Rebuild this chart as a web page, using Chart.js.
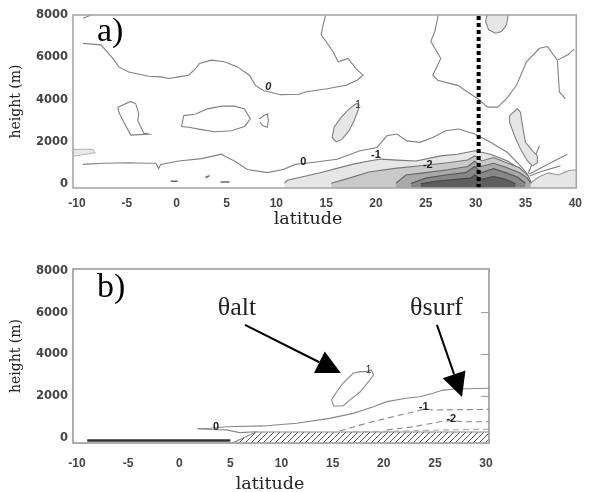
<!DOCTYPE html>
<html>
<head>
<meta charset="utf-8">
<script src="https://cdn.jsdelivr.net/npm/chart.js@4.4.0/dist/chart.umd.min.js"></script>
<style>
  html, body { margin: 0; padding: 0; background: #fff; }
  #wrap { position: relative; width: 590px; height: 492px; }
  #boxA { position: absolute; left: 0; top: 0; width: 590px; height: 232px; }
  #boxB { position: absolute; left: 0; top: 250px; width: 590px; height: 242px; }
</style>
</head>
<body>
<div id="wrap">
  <div id="boxA"><canvas id="chartA"></canvas></div>
  <div id="boxB"><canvas id="chartB"></canvas></div>
</div>
<script>
// axis ticks
const latTicksA = [-10, -5, 0, 5, 10, 15, 20, 25, 30, 35, 40]
const latTicksB = [-10, -5, 0, 5, 10, 15, 20, 25, 30]
const heightTicks = [0, 2000, 4000, 6000, 8000]

// panel a) contours, [latitude, height]
const aZeroUpper = [[-9.4,6660],[-7.6,6590],[-6.4,5950],[-5.8,5550],[-4.8,5310],[-2.8,5110],[-1.6,5080],[-0.8,5000],[0.2,5080],[1.2,5160],[1.9,5470],[2.3,5710],[3.5,5870],[4.8,5790],[6.1,5550],[7.3,5160],[7.9,4680],[8.7,4440],[10.4,4240],[12.3,4260],[13.0,4380],[15.1,4520],[17.0,4680],[18.1,4920],[18.7,5160],[18.0,5470],[17.2,5950],[16.2,5790],[15.7,6270],[15.0,6750],[14.5,7060],[14.7,7540],[15.0,8100]]
const aZeroTopLeft = [[-9.4,7850],[-8.0,8100]]
const aZeroRight = [[26.3,8100],[25.9,7220],[25.5,6750],[26.5,5950],[25.7,5160],[26.2,4920],[28.2,4680],[30.2,4050],[31.2,3650],[32.2,3650],[33.1,4050],[34.1,4680],[35.1,5790],[36.4,6430],[37.2,6510],[38.2,5870],[39.2,6110],[39.9,6400]]
const aZeroRightTail = [[38.2,5870],[38.3,5160],[38.4,4370],[39.0,4050]]
const aLoopLeft = [[-5.9,3650],[-4.6,3920],[-4.1,3810],[-3.8,3330],[-3.9,3010],[-3.3,2430],[-2.8,2380],[-4.6,2330],[-5.3,2940],[-5.8,3410],[-5.9,3650]]
const aLoopMid = [[0.7,3250],[1.9,3330],[3.1,3570],[4.5,3700],[5.8,3700],[6.8,3570],[7.4,3090],[6.8,2740],[5.5,2540],[3.8,2490],[2.5,2590],[1.2,2700],[0.5,2740],[0.7,3250]]
const aHook = [[8.3,3090],[8.7,3250],[9.1,3330],[9.2,3010],[9.1,2700],[8.6,2780],[8.4,2940]]
const aZeroLower = [[-9.4,950],[-7.4,1000],[-4.8,1030],[-2.8,1000],[-2.1,1000],[-1.8,750],[-1.6,950],[0.2,1110],[2.5,1220],[4.5,1430],[4.8,1350],[5.8,1110],[7.1,710],[9.1,560],[10.7,710],[11.9,950],[13.4,1030],[16.1,1190],[18.4,1590],[20.1,1750],[21.1,2300],[22.1,2380],[23.1,2060],[24.4,1990],[25.7,2220],[27.0,2540],[28.3,2620],[29.9,2380],[31.5,1990],[33.2,1510],[34.5,880],[35.2,480]]
const aMinus1 = [[10.8,60],[11.1,200],[14.3,540],[17.6,950],[19.3,1110],[20.5,1200],[22.1,1150],[24.0,1110],[26.5,1350],[28.2,1430],[29.9,1590],[31.5,1430],[33.2,1110],[34.5,710],[35.3,200],[35.5,60]]
const aMinus2 = [[15.5,60],[17.3,300],[19.3,590],[21.9,760],[24.2,870],[27.2,1030],[29.2,1160],[29.9,1350],[30.6,1110],[31.8,1270],[33.1,1030],[34.4,790],[35.3,400],[35.6,60]]
const aMinus3 = [[22.0,60],[23.0,450],[25.0,560],[27.2,700],[29.2,850],[29.9,1100],[30.6,850],[31.8,1000],[33.1,800],[34.4,550],[35.2,300],[35.5,60]]
const aMinus4 = [[23.5,50],[25.0,300],[27.0,450],[29.0,560],[29.9,850],[30.6,560],[31.8,750],[33.0,560],[34.2,350],[35.0,60]]
const aMinus5 = [[24.5,30],[26.0,150],[28.0,250],[29.5,300],[29.9,450],[30.6,250],[31.8,380],[33.0,250],[34.0,40]]
const aRightPatch = [[35.5,60],[36.3,350],[37.3,550],[38.3,450],[39.3,650],[40.1,700]]
const aPlus1 = [[18.3,3810],[18.2,3490],[17.8,3010],[17.3,2540],[16.6,2140],[16.0,2010],[15.6,2220],[15.8,2700],[16.5,3170],[17.3,3570],[18.0,3810],[18.3,3810]]
const aPlus2 = [[31.2,8100],[31.0,7700],[31.3,7300],[32.0,7140],[32.6,7220],[33.1,7540],[33.3,8100]]
const aPlus3 = [[33.4,3250],[34.2,3570],[34.5,3410],[34.7,2780],[35.0,1990],[35.7,1590],[36.2,1350],[36.2,1030],[35.7,880],[35.2,1110],[34.5,1670],[33.9,2300],[33.4,2940],[33.4,3250]]
const aLeftPatch = [[-10.4,1330],[-8.2,1500],[-8.4,1660],[-10.4,1660]]
const aRay1 = [[36.4,1830],[35.6,900],[35.2,450]]
const aRay2 = [[39.2,1430],[37.0,900],[35.4,500]]
const aRay3 = [[38.5,880],[36.5,600],[35.4,400]]
const aDash1 = [[-0.6,150],[0.1,150]]
const aDash2 = [[4.4,120],[5.3,120]]
const aDash3 = [[2.9,330],[3.3,420]]
const aSection = [[30.3,-165],[30.3,8000]]

// panel b) contours
const bZero = [[1.8,460],[3.0,480],[4.6,550],[8.2,590],[11.5,720],[14.7,950],[17.0,1190],[19.0,1510],[20.3,1750],[22.2,1910],[23.5,1980],[24.8,2150],[25.8,2300],[27.1,2350],[30.3,2390]]
const bZeroLower = [[1.8,460],[3.2,420],[4.6,400],[5.9,270],[7.6,310]]
const bMinus1 = [[15.7,350],[18.3,720],[20.9,1030],[23.0,1270],[24.0,1400],[24.8,1350],[30.3,1380]]
const bMinus2 = [[20.3,400],[22.9,550],[25.5,790],[26.5,850],[27.8,790],[30.3,790]]
const bMinus3 = [[17.0,300],[22.0,350],[26.0,400],[30.3,430]]
const bPlus1 = [[18.3,3180],[18.8,3260],[19.0,3020],[18.5,2700],[17.7,2220],[16.7,1830],[16.0,1540],[15.1,1540],[14.9,1830],[15.4,2220],[16.0,2620],[17.0,3100],[17.7,3180],[18.3,3180]]
const bTerrain = [[5.2,-225],[7.5,300],[30.3,300]]
const bOcean = [[-9.0,-110],[5.0,-110]]

const pts = arr => arr.map(p => ({x: p[0], y: p[1]}))

function line(data, extra) {
  return Object.assign({
    data: pts(data), borderColor: '#808080', borderWidth: 1.1, pointRadius: 0,
    fill: false, tension: 0, order: 10
  }, extra)
}

function hatch() {
  const c = document.createElement('canvas')
  c.width = 6; c.height = 6
  const g = c.getContext('2d')
  g.strokeStyle = '#555'; g.lineWidth = 1
  g.beginPath()
  g.moveTo(0, 6); g.lineTo(6, 0)
  g.moveTo(-1, 1); g.lineTo(1, -1)
  g.moveTo(5, 7); g.lineTo(7, 5)
  g.stroke()
  return g.createPattern(c, 'repeat')
}

// box around the plot and a few inner ticks
const frame = {
  id: 'frame',
  afterDatasetsDraw(chart, args, opts) {
    const {ctx, chartArea: a, scales: {y}} = chart
    ctx.save()
    ctx.strokeStyle = opts.color
    ctx.lineWidth = 1.6
    ctx.strokeRect(a.left, a.top, a.right - a.left, a.bottom - a.top)
    if (opts.rightTicks) {
      ctx.lineWidth = 1
      opts.rightTicks.forEach(v => {
        const py = y.getPixelForValue(v)
        ctx.beginPath(); ctx.moveTo(a.right - 8, py); ctx.lineTo(a.right, py); ctx.stroke()
      })
    }
    ctx.restore()
  }
}

// contour labels, arrows, panel letters and the latitude caption
const notes = {
  id: 'notes',
  afterDraw(chart, args, opts) {
    const {ctx, chartArea: a, scales: {x, y}} = chart
    ctx.save()
    ;(opts.labels || []).forEach(t => {
      ctx.font = t.font
      ctx.fillStyle = '#222'
      ctx.textAlign = 'center'
      ctx.textBaseline = t.base || 'middle'
      ctx.fillText(t.text, x.getPixelForValue(t.at[0]), y.getPixelForValue(t.at[1]))
    })
    ;(opts.arrows || []).forEach(r => {
      const x0 = x.getPixelForValue(r.from[0]), y0 = y.getPixelForValue(r.from[1])
      const x1 = x.getPixelForValue(r.to[0]), y1 = y.getPixelForValue(r.to[1])
      const ang = Math.atan2(y1 - y0, x1 - x0)
      const len = 24, half = 12
      const bx = x1 - len * Math.cos(ang), by = y1 - len * Math.sin(ang)
      ctx.strokeStyle = '#000'; ctx.fillStyle = '#000'; ctx.lineWidth = 2
      ctx.beginPath(); ctx.moveTo(x0, y0); ctx.lineTo(bx, by); ctx.stroke()
      ctx.beginPath()
      ctx.moveTo(x1, y1)
      ctx.lineTo(bx - half * Math.sin(ang), by + half * Math.cos(ang))
      ctx.lineTo(bx + half * Math.sin(ang), by - half * Math.cos(ang))
      ctx.closePath(); ctx.fill()
    })
    ctx.fillStyle = '#000'
    ctx.textAlign = 'left'
    ctx.textBaseline = 'alphabetic'
    ctx.font = '34px "Liberation Serif"'
    ctx.fillText(opts.letter, a.left + 24, a.top + opts.letterDy)
    ctx.fillStyle = '#222'
    ctx.textAlign = 'center'
    ctx.textBaseline = 'middle'
    ctx.font = '17.5px "DejaVu Serif"'
    ctx.fillText('latitude', opts.captionX, opts.captionY)
    ctx.restore()
  }
}

const xTickFont = {family: 'Liberation Sans', size: 12, weight: 'bold'}
const yTickFont = {family: 'DejaVu Sans', size: 11.5, weight: 'bold'}

function scales(xr, xTicks, yr, xAxisH, xTickPad) {
  return {
    x: {
      type: 'linear', min: xr[0], max: xr[1],
      afterBuildTicks: s => { s.ticks = xTicks.map(v => ({value: v})) },
      afterFit: s => { s.height = xAxisH },
      grid: {display: false, drawTicks: false}, border: {display: false},
      ticks: {font: xTickFont, color: '#444', padding: xTickPad, maxRotation: 0, autoSkip: false, callback: v => String(v)}
    },
    y: {
      type: 'linear', min: yr[0], max: yr[1],
      afterBuildTicks: s => { s.ticks = heightTicks.map(v => ({value: v})) },
      afterFit: s => { s.width = 73 },
      grid: {display: false, drawTicks: false}, border: {display: false},
      ticks: {font: yTickFont, color: '#444', padding: 5, autoSkip: false, callback: v => String(v)},
      title: {display: true, text: 'height (m)', color: '#222', font: {family: 'DejaVu Serif', size: 14}, padding: {top: 8, bottom: 0}}
    }
  }
}

const common = {
  responsive: true, maintainAspectRatio: false, animation: false
}

const lab = '10px "Liberation Sans"'
const labB = 'bold 11px "Liberation Sans"'

new Chart(document.getElementById('chartA').getContext('2d'), {
  type: 'line',
  data: {
    datasets: [
      line(aSection, {borderColor: '#000', borderWidth: 4, borderDash: [4, 3], order: 0}),
      line(aMinus1, {borderColor: '#777', fill: 'start', backgroundColor: '#e6e6e6', order: 60}),
      line(aRightPatch, {borderColor: '#999', fill: 'start', backgroundColor: '#e6e6e6', order: 60}),
      line(aMinus2, {borderColor: '#777', fill: 'start', backgroundColor: '#c9c9c9', order: 50}),
      line(aMinus3, {borderColor: '#666', fill: 'start', backgroundColor: '#a9a9a9', order: 40}),
      line(aMinus4, {borderColor: '#555', fill: 'start', backgroundColor: '#878787', order: 30}),
      line(aMinus5, {borderColor: '#444', fill: 'start', backgroundColor: '#5e5e5e', order: 20}),
      line(aPlus1, {fill: 'shape', backgroundColor: '#e6e6e6'}),
      line(aPlus2, {fill: 'shape', backgroundColor: '#e6e6e6'}),
      line(aPlus3, {fill: 'shape', backgroundColor: '#e6e6e6'}),
      line(aLeftPatch, {borderColor: '#bbb', fill: 'shape', backgroundColor: '#e9e9e9'}),
      line(aZeroUpper),
      line(aZeroTopLeft),
      line(aZeroRight),
      line(aZeroRightTail),
      line(aLoopLeft),
      line(aLoopMid),
      line(aHook),
      line(aZeroLower),
      line(aRay1),
      line(aRay2),
      line(aRay3),
      line(aDash1, {borderColor: '#666', borderWidth: 1.5}),
      line(aDash2, {borderColor: '#666', borderWidth: 1.5}),
      line(aDash3, {borderColor: '#666', borderWidth: 1.5})
    ]
  },
  options: Object.assign({}, common, {
    layout: {padding: {top: 15, right: 6, left: 0, bottom: 0}},
    scales: scales([-10.4, 40.1], latTicksA, [-165, 8000], 44, 8),
    plugins: {
      legend: {display: false}, tooltip: {enabled: false},
      frame: {color: '#a8a8a8'},
      notes: {
        letter: 'a)', letterDy: 26, captionX: 308, captionY: 219,
        labels: [
          {text: '0', at: [9.2, 4600], font: 'italic ' + labB},
          {text: '0', at: [12.7, 1060], font: labB},
          {text: '1', at: [18.2, 3750], font: lab},
          {text: '-1', at: [20.0, 1400], font: labB},
          {text: '-2', at: [25.2, 930], font: labB}
        ]
      }
    }
  }),
  plugins: [frame, notes]
})

new Chart(document.getElementById('chartB').getContext('2d'), {
  type: 'line',
  data: {
    datasets: [
      line(bOcean, {borderColor: '#333', borderWidth: 2.5}),
      line(bTerrain, {borderColor: '#888', borderWidth: 1.2, fill: 'start', backgroundColor: hatch(), order: 30}),
      line(bZero, {borderColor: '#888'}),
      line(bZeroLower, {borderColor: '#888'}),
      line(bMinus1, {borderColor: '#888', borderDash: [6, 4]}),
      line(bMinus2, {borderColor: '#888', borderDash: [6, 4]}),
      line(bMinus3, {borderColor: '#aaa', borderDash: [6, 4]}),
      line(bPlus1, {borderColor: '#888'})
    ]
  },
  options: Object.assign({}, common, {
    layout: {padding: {top: 19, right: 101, left: 0, bottom: 0}},
    scales: scales([-10.39, 30.29], latTicksB, [-225, 8080], 49, 13),
    plugins: {
      legend: {display: false}, tooltip: {enabled: false},
      frame: {color: '#999', rightTicks: [2000, 4000, 6000]},
      notes: {
        letter: 'b)', letterDy: 28, captionX: 270, captionY: 234,
        labels: [
          {text: '0', at: [3.6, 520], font: labB},
          {text: '-1', at: [23.9, 1480], font: labB},
          {text: '-2', at: [26.6, 910], font: labB},
          {text: '1', at: [18.5, 3260], font: lab},
          {text: '\u03b8alt', at: [5.65, 5880], font: '26px "Liberation Serif"', base: 'alphabetic'},
          {text: '\u03b8surf', at: [25.16, 5880], font: '26px "Liberation Serif"', base: 'alphabetic'}
        ],
        arrows: [
          {from: [6.43, 5410], to: [15.8, 3115]},
          {from: [25.2, 5410], to: [27.65, 1970]}
        ]
      }
    }
  }),
  plugins: [frame, notes]
})
</script>
</body>
</html>
